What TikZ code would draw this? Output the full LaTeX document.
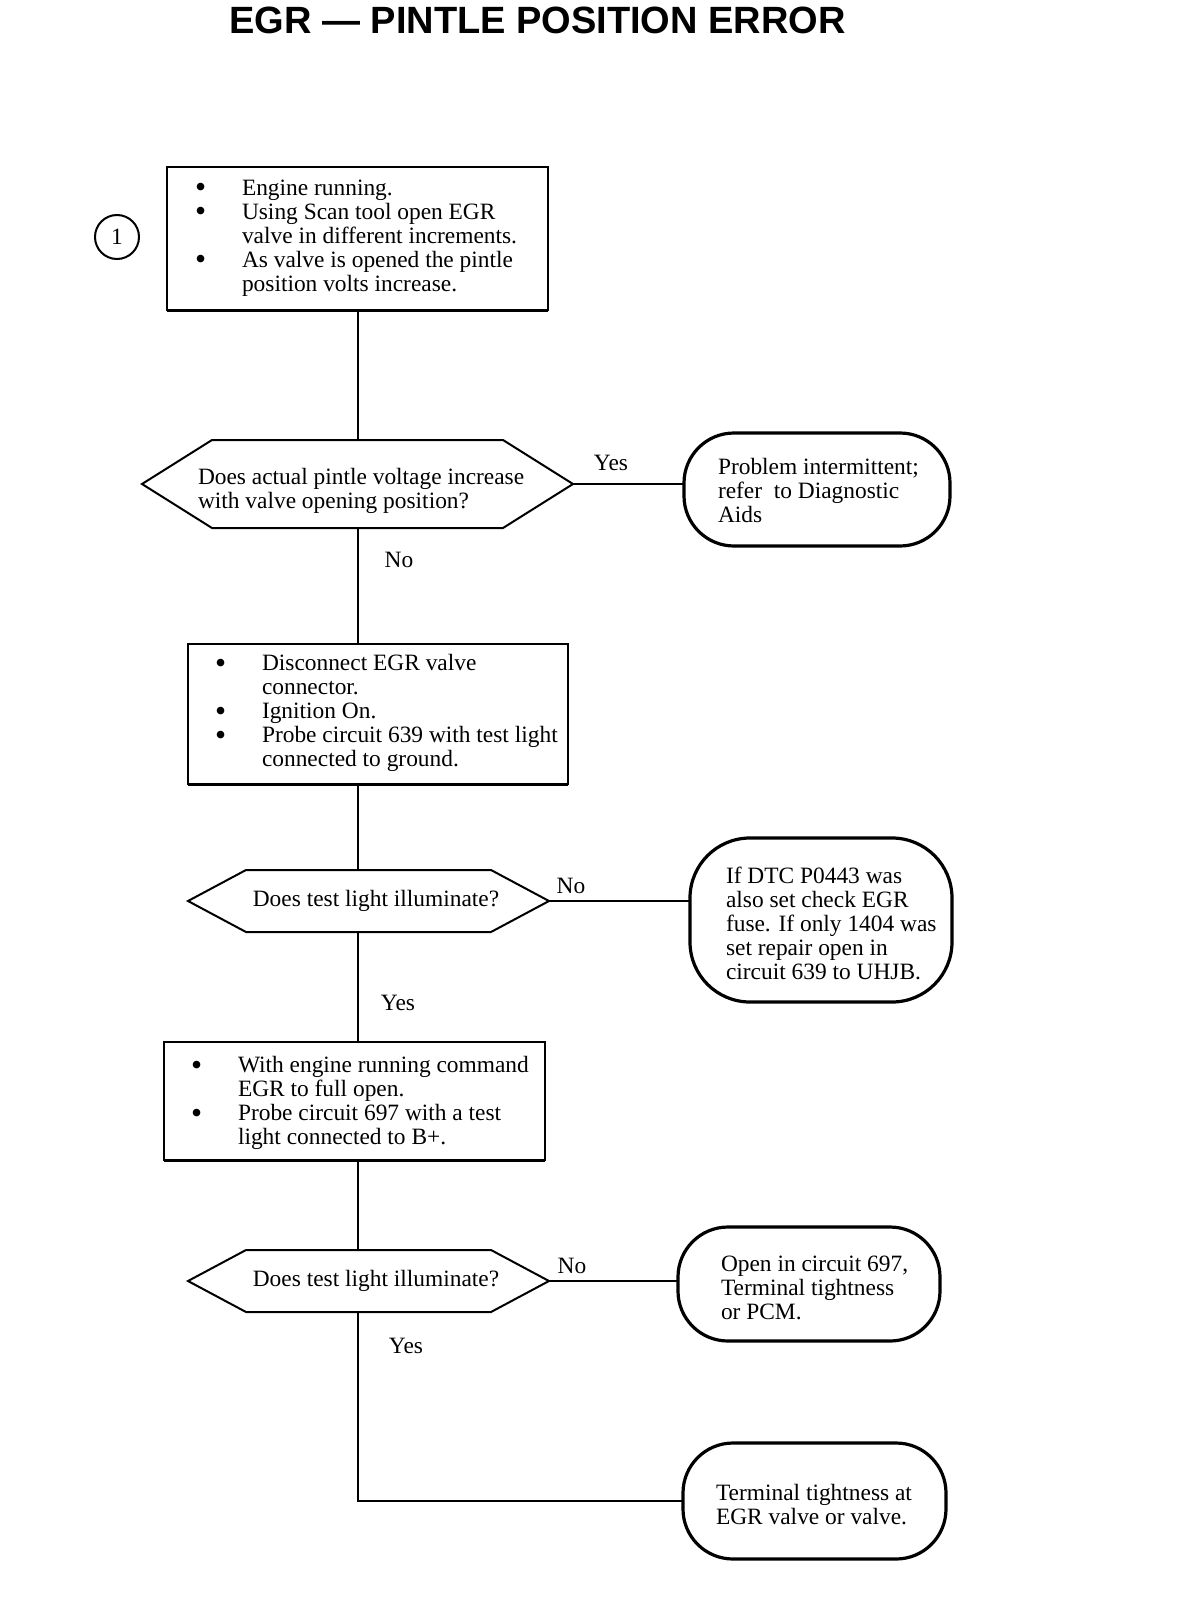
\documentclass[tikz,border=0pt]{standalone}
\usepackage{fontspec}
\setmainfont{Liberation Serif}
\newfontfamily\titlefont{Liberation Sans}
\newcommand\bul{\makebox[23.5pt][l]{\raisebox{-0.25ex}{\scalebox{1.35}{\textbullet}}}}
\newcommand\ind{\hspace*{23.5pt}}
\newcommand\drawhex[2]{%
  \draw[hexst] (#1.west) -- ([xshift=#2]#1.north west) -- ([xshift=-#2]#1.north east)
    -- (#1.east) -- ([xshift=-#2]#1.south east) -- ([xshift=#2]#1.south west) -- cycle;}
\newcommand\boxbottom[1]{\draw[line width=1.5pt] (#1.south west) -- (#1.south east);}
\begin{document}
\begin{tikzpicture}[x=0.5pt,y=-0.5pt,
  every node/.style={inner sep=0pt, outer sep=0pt},
  txt/.style={font=\fontsize{11.7}{12}\selectfont, align=left},
  lbl/.style={font=\fontsize{11.7}{12}\selectfont},
  boxst/.style={draw, line width=1pt, rectangle},
  term/.style={draw, line width=1.6pt, rectangle},
  hexgeom/.style={rectangle},
  hexst/.style={line width=1pt},
  conn/.style={line width=0.75pt}]
\useasboundingbox (0,0) rectangle (1184,1600);

% title
\node[font=\titlefont\bfseries\fontsize{19}{20}\selectfont] (title) at (537.5,20) {EGR \textemdash\ PINTLE POSITION ERROR};

% note circle
\node[draw, circle, line width=1pt, minimum size=22pt, lbl] (n1) at (117,237) {1};

% box 1
\node[boxst, minimum width=190.5pt, minimum height=71.5pt] (b1) at (357.5,238.5) {};
\boxbottom{b1}
\node[txt, anchor=west] (b1t) at (195,238) {\bul Engine running.\\
\bul Using Scan tool open EGR\\
\ind valve in different increments.\\
\bul As valve is opened the pintle\\
\ind position volts increase.};

% decision 1
\node[hexgeom, minimum width=215.5pt, minimum height=44pt] (d1) at (357.5,484) {};
\drawhex{d1}{35pt}
\node[txt, anchor=west] (d1t) at (198,491) {Does actual pintle voltage increase\\with valve opening position?};

% terminal 1
\node[term, rounded corners=25pt, minimum width=133pt, minimum height=56.5pt] (t1) at (817,489.5) {};
\node[txt, anchor=west] (t1t) at (718,490) {Problem intermittent;\\refer\ \ to Diagnostic\\Aids};

% box 2
\node[boxst, minimum width=190pt, minimum height=70pt] (b2) at (378,714) {};
\boxbottom{b2}
\node[txt, anchor=west] (b2t) at (215,713) {\bul Disconnect EGR valve\\
\ind connector.\\
\bul Ignition On.\\
\bul Probe circuit 639 with test light\\
\ind connected to ground.};

% decision 2
\node[hexgeom, minimum width=180.5pt, minimum height=31pt] (d2) at (368.5,901) {};
\drawhex{d2}{29pt}
\node[txt] (d2t) at (376,901) {Does test light illuminate?};

% terminal 2
\node[term, rounded corners=30pt, minimum width=131pt, minimum height=82pt] (t2) at (821,920) {};
\node[txt, anchor=west] (t2t) at (726,923.5) {If DTC P0443 was\\also set check EGR\\fuse. If only 1404 was\\set repair open in\\circuit 639 to UHJB.};

% box 3
\node[boxst, minimum width=190.5pt, minimum height=59pt] (b3) at (354.5,1101) {};
\boxbottom{b3}
\node[txt, anchor=west] (b3t) at (191,1103) {\bul With engine running command\\
\ind EGR to full open.\\
\bul Probe circuit 697 with a test\\
\ind light connected to B+.};

% decision 3
\node[hexgeom, minimum width=180.5pt, minimum height=31pt] (d3) at (368.5,1281) {};
\drawhex{d3}{29pt}
\node[txt] (d3t) at (376,1281) {Does test light illuminate?};

% terminal 3
\node[term, rounded corners=25pt, minimum width=131pt, minimum height=57pt] (t3) at (809,1284) {};
\node[txt, anchor=west] (t3t) at (721,1288) {Open in circuit 697,\\Terminal tightness\\or PCM.};

% terminal 4
\node[term, rounded corners=25pt, minimum width=131.5pt, minimum height=58pt] (t4) at (814.5,1501) {};
\node[txt, anchor=west] (t4t) at (716,1504.5) {Terminal tightness at\\EGR valve or valve.};

% labels
\node[lbl] (yes1) at (611,463) {Yes};
\node[lbl] (no1) at (399,560) {No};
\node[lbl] (no2) at (571,886) {No};
\node[lbl] (yes2) at (398,1003) {Yes};
\node[lbl] (no3) at (572,1266) {No};
\node[lbl] (yes3) at (406,1346) {Yes};

% connectors
\coordinate (col) at (358,0);
\draw[conn] (b1.south -| col) -- (d1.north -| col);
\draw[conn] (d1.south -| col) -- (b2.north -| col);
\draw[conn] (b2.south -| col) -- (d2.north -| col);
\draw[conn] (d2.south -| col) -- (b3.north -| col);
\draw[conn] (b3.south -| col) -- (d3.north -| col);
\draw[conn] (d3.south -| col) |- (t4.west);
\draw[conn] (d1.east) -- (d1.east -| t1.west);
\draw[conn] (d2.east) -- (d2.east -| t2.west);
\draw[conn] (d3.east) -- (d3.east -| t3.west);
\end{tikzpicture}
\end{document}
